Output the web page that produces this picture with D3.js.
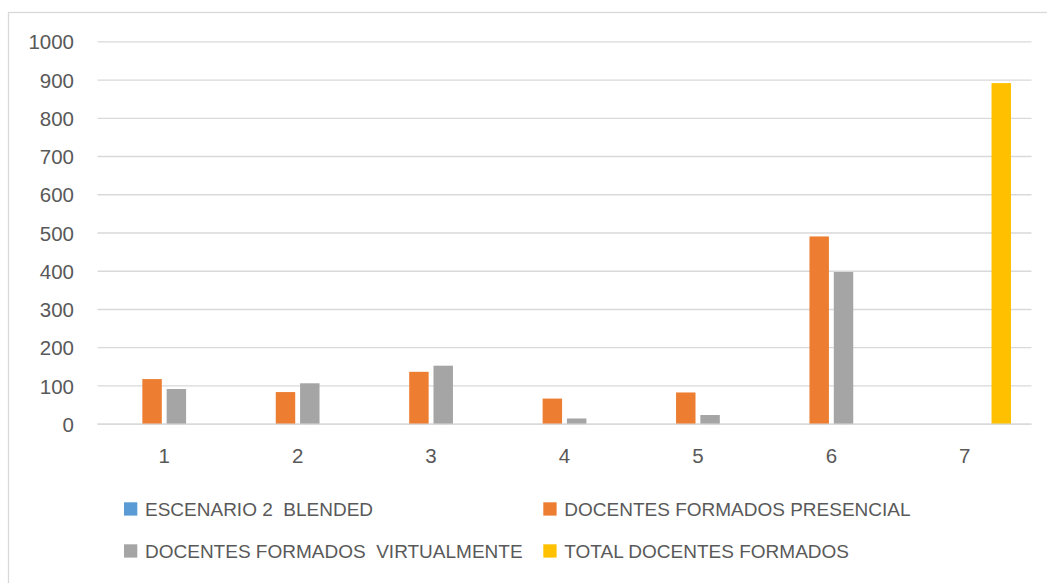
<!DOCTYPE html>
<html>
<head>
<meta charset="utf-8">
<script src="https://cdn.jsdelivr.net/npm/d3@7"></script>
<style>
  html, body { margin: 0; padding: 0; background: #fff; }
  svg { display: block; }
  text { font-family: "Liberation Sans", Arial, sans-serif; fill: #595959; }
</style>
</head>
<body>
<svg id="chart" width="1047" height="583"></svg>
<script>
const categories = ["1", "2", "3", "4", "5", "6", "7"];
const seriesNames = ["ESCENARIO 2  BLENDED", "DOCENTES FORMADOS PRESENCIAL", "DOCENTES FORMADOS  VIRTUALMENTE", "TOTAL DOCENTES FORMADOS"];
const escenario = [0, 0, 0, 0, 0, 0, 0];
const presencial = [118, 84, 137, 67, 83, 491, 0];
const virtualmente = [92, 107, 153, 15, 24, 398, 0];
const total = [0, 0, 0, 0, 0, 0, 892];
const yTicks = [0, 100, 200, 300, 400, 500, 600, 700, 800, 900, 1000];
const colors = ["#5B9BD5", "#ED7D31", "#A5A5A5", "#FFC000"];

const seriesValues = [escenario, presencial, virtualmente, total];

const svg = d3.select("#chart");
const W = 1047, H = 583;

// chart area border (only top/left visible in frame)
svg.append("rect")
  .attr("x", 8.5).attr("y", 12.5)
  .attr("width", W + 20).attr("height", H + 20)
  .attr("fill", "#fff").attr("stroke", "#D9D9D9").attr("stroke-width", 1.3);

const plotLeft = 97.5, plotRight = 1031.5;
const yScale = d3.scaleLinear().domain([0, 1000]).range([424.2, 41.8]);

const x0 = d3.scaleBand().domain(categories).range([plotLeft, plotRight])
  .paddingInner(0.271).paddingOuter(0.1355);
const x1 = d3.scaleBand().domain(d3.range(seriesNames.length)).range([0, x0.bandwidth()])
  .paddingInner(0.2).paddingOuter(0.1);

// gridlines
const grid = svg.append("g");
grid.selectAll("line").data(yTicks).join("line")
  .attr("x1", plotLeft).attr("x2", plotRight)
  .attr("y1", d => yScale(d)).attr("y2", d => yScale(d))
  .attr("stroke", "#D9D9D9").attr("stroke-width", 1.3);

// y axis labels
const yAxis = d3.axisLeft(yScale).tickValues(yTicks).tickSize(0).tickPadding(0).tickFormat(d3.format("d"));
const yg = svg.append("g").attr("transform", "translate(74,0)").call(yAxis);
yg.select(".domain").remove();
yg.selectAll("text").attr("font-size", 20.5).attr("fill", "#595959")
  .attr("font-family", "'Liberation Sans', Arial, sans-serif").attr("dy", "0.35em");

// x axis labels
const xAxis = d3.axisBottom(x0).tickSize(0).tickPadding(0);
const xg = svg.append("g").attr("transform", "translate(0,448)").call(xAxis);
xg.select(".domain").remove();
xg.selectAll("text").attr("font-size", 20.5).attr("fill", "#595959")
  .attr("font-family", "'Liberation Sans', Arial, sans-serif").attr("dy", "0.71em");

// bars
const groups = svg.append("g").selectAll("g").data(categories).join("g")
  .attr("transform", d => `translate(${x0(d)},0)`);
groups.selectAll("rect")
  .data((c, ci) => seriesValues.map((vals, si) => ({ si, v: vals[ci] })))
  .join("rect")
  .attr("x", d => x1(d.si))
  .attr("width", x1.bandwidth())
  .attr("y", d => yScale(d.v))
  .attr("height", d => yScale(0) - yScale(d.v))
  .attr("fill", d => colors[d.si]);

// baseline gridline on top
svg.append("line")
  .attr("x1", plotLeft).attr("x2", plotRight)
  .attr("y1", yScale(0)).attr("y2", yScale(0))
  .attr("stroke", "#D9D9D9").attr("stroke-width", 1.3);

// legend
const legendPos = [[124, 509], [543.3, 509], [124, 551], [543.3, 551]];
const legend = svg.append("g");
seriesNames.forEach((name, i) => {
  const [lx, ly] = legendPos[i];
  legend.append("rect").attr("x", lx).attr("y", ly - 6.7).attr("width", 13.3).attr("height", 13.3)
    .attr("fill", colors[i]);
  legend.append("text").attr("x", lx + 21).attr("y", ly).attr("dy", "0.35em")
    .attr("font-size", 19).attr("xml:space", "preserve").style("white-space", "pre").text(name);
});
</script>
</body>
</html>
